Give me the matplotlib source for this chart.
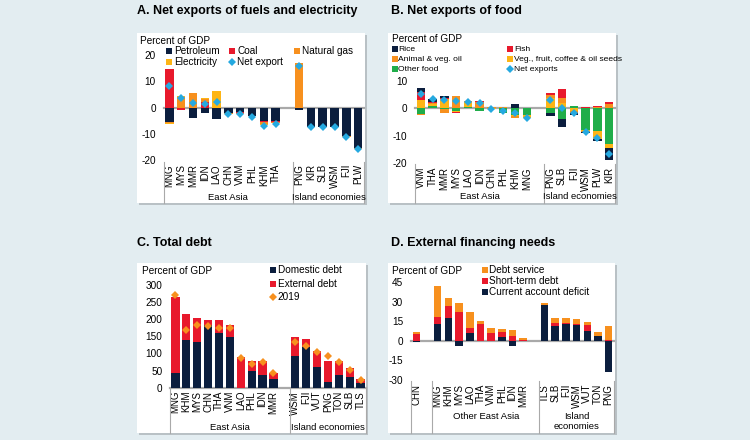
import matplotlib
matplotlib.use("Agg")
import matplotlib.pyplot as plt
from matplotlib.patches import Rectangle
from matplotlib.lines import Line2D
import numpy as np

plt.rcParams["font.family"] = ["Liberation Sans", "DejaVu Sans"]
plt.rcParams["axes.unicode_minus"] = False

W, H = 750, 440

NAVY = "#0B1E3E"
RED = "#E8192C"
ORANGE = "#F7901E"
GOLD = "#FDB515"
CYAN = "#25A9E0"
GREEN = "#20AD4A"
GRAY = "#A9A9A9"
BG = "#E3EDF1"

# A. Net exports of fuels and electricity
fuel_countries = ["MNG", "MYS", "MMR", "IDN", "LAO", "CHN", "VNM", "PHL", "KHM", "THA",
                  "PNG", "KIR", "SLB", "WSM", "FJI", "PLW"]
fuel_petroleum = [-5.3, 0.0, -3.8, -2.1, -4.3, -1.9, -1.8, -3.1, -5.1, -5.0,
                  -0.9, -7.2, -7.2, -7.2, -10.6, -15.4]
fuel_coal = [14.6, -0.9, 0.0, 2.3, 0.0, -0.2, -0.3, -0.2, -0.5, -0.4,
             0.0, 0.0, 0.0, 0.0, 0.0, 0.0]
fuel_gas = [-0.4, 4.0, 5.5, 1.0, 0.0, -0.2, -0.2, 0.0, -0.5, -0.6,
            16.9, -0.3, -0.3, -0.3, -0.4, -0.4]
fuel_elec = [-0.6, 0.4, 0.2, 0.3, 6.5, 0.0, 0.0, 0.0, -0.5, 0.0,
             0.0, 0.0, 0.0, 0.0, 0.0, 0.0]
fuel_net = [8.2, 3.5, 1.8, 1.3, 2.0, -2.4, -2.5, -3.4, -6.8, -6.3,
            16.0, -7.5, -7.5, -7.5, -11.1, -15.8]

# B. Net exports of food
food_countries = ["VNM", "THA", "MMR", "MYS", "LAO", "IDN", "CHN", "PHL", "KHM", "MNG",
                  "PNG", "SLB", "FJI", "WSM", "PLW", "KIR"]
food_rice = [1.5, 1.0, 0.6, 0.0, 0.0, 0.0, 0.0, 0.0, 1.5, 0.0,
             -0.9, -2.9, -0.6, -0.4, -0.6, -4.3]
food_fish = [3.0, 0.6, 0.6, -0.3, 0.0, 0.3, 0.0, 0.0, -0.2, 0.0,
             0.7, 3.0, -0.2, 0.3, 0.5, 0.6]
food_oil = [-0.3, 0.4, -1.4, 4.5, 0.3, 2.2, 0.3, 0.5, -0.7, 0.0,
            1.2, 2.1, -0.5, -0.3, 0.3, 1.6]
food_veg = [3.0, 0.4, 3.3, -0.7, 1.8, 0.2, -0.3, 0.0, -0.2, -1.0,
            3.6, 1.8, -1.1, -0.5, -3.0, -1.5]
food_other = [-2.2, 1.0, -0.2, -0.8, 0.6, -0.8, 0.0, -1.6, -2.6, -2.4,
              -1.8, -4.0, 1.0, -7.8, -8.2, -13.0]
food_net = [5.2, 3.4, 3.0, 2.7, 2.4, 1.9, -0.3, -1.0, -1.8, -3.5,
            3.0, 0.0, -1.6, -8.6, -10.9, -16.6]

# C. Total debt
debt_countries = ["MNG", "KHM", "MYS", "CHN", "THA", "VNM", "LAO", "PHL", "IDN", "MMR",
                  "WSM", "FJI", "VUT", "PNG", "TON", "SLB", "TLS"]
debt_domestic = [44, 138, 133, 182, 159, 147, 0, 50, 37, 26, 92, 119, 60, 18, 37, 32, 15]
debt_external = [222, 78, 70, 15, 38, 35, 91, 28, 41, 18, 55, 24, 48, 61, 42, 26, 11]
debt_2019 = [271, 170, 184, 180, 175, 173, 88, 68, 74, 43, 134, 123, 105, 92, 75, 52, 22]

# D. External financing needs
efn_countries = ["CHN", "MNG", "KHM", "MYS", "LAO", "THA", "VNM", "PHL", "IDN", "MMR",
                 "TLS", "SLB", "FJI", "WSM", "VUT", "TON", "PNG"]
efn_current = [-1.3, 12.8, 17.6, -3.8, 5.9, 0.0, 0.0, 3.1, -4.1, 0.0,
               27.4, 11.5, 12.8, 12.0, 7.4, 3.6, -23.8]
efn_short = [5.4, 5.6, 9.3, 22.3, 4.1, 13.0, 5.6, 3.5, 3.6, 0.3,
             0.0, 1.8, 1.0, 0.5, 4.6, 0.0, 0.5]
efn_service = [1.0, 23.8, 5.6, 6.9, 12.0, 2.3, 4.1, 2.1, 4.3, 1.5,
               1.2, 4.3, 3.3, 4.1, 2.1, 2.8, 11.0]

fig = plt.figure(figsize=(W / 100, H / 100), dpi=100, facecolor=BG)


def fx(x):
    return x / W


def fy(y):
    return 1 - y / H


def panel_box(x0, y0, x1, y1):
    fig.patches.append(Rectangle((fx(x0 + 2), fy(y1 + 2)), (x1 - x0) / W, (y1 - y0) / H,
                                 transform=fig.transFigure, facecolor="#B9C1C5",
                                 edgecolor="none", zorder=-3))
    fig.patches.append(Rectangle((fx(x0), fy(y1)), (x1 - x0) / W, (y1 - y0) / H,
                                 transform=fig.transFigure, facecolor="white",
                                 edgecolor="none", zorder=-2))


def make_axes(L, R, T, B, xlim, y0px, ppu, yticks):
    ax = fig.add_axes([fx(L), fy(B), (R - L) / W, (B - T) / H])
    ax.set_xlim(*xlim)
    ax.set_ylim((y0px - B) / ppu, (y0px - T) / ppu)
    ax.patch.set_alpha(0)
    for s in ax.spines.values():
        s.set_visible(False)
    ax.set_yticks(yticks)
    ax.tick_params(axis="y", length=0, labelsize=7.2, pad=5.5)
    ax.tick_params(axis="x", length=0, labelsize=7, pad=2.2, labelrotation=90)
    ax.axhline(0, color=GRAY, lw=1.6, zorder=1, clip_on=False)
    ax._px = (L, R, xlim)
    return ax


def data_to_px(ax, x):
    L, R, xlim = ax._px
    return L + (x - xlim[0]) / (xlim[1] - xlim[0]) * (R - L)


def stacked(ax, x, series, colors, width):
    pos = np.zeros(len(x))
    neg = np.zeros(len(x))
    for vals, c in zip(series, colors):
        v = np.array(vals, dtype=float)
        p = np.where(v > 0, v, 0)
        n = np.where(v < 0, v, 0)
        ax.bar(x, p, bottom=pos, width=width, color=c, lw=0, zorder=2)
        ax.bar(x, n, bottom=neg, width=width, color=c, lw=0, zorder=2)
        pos += p
        neg += n


def groups(ax, seps, top, bottom, labels):
    for s in seps:
        xp = fx(data_to_px(ax, s))
        fig.add_artist(Line2D([xp, xp], [fy(top), fy(bottom)], color=GRAY, lw=0.8))
    for text, xc, yc in labels:
        fig.text(fx(data_to_px(ax, xc)), fy(yc), text, ha="center", va="center",
                 fontsize=6.8, linespacing=1.2)


def legend_item(x, y, label, color, marker="s", ms=4.6, fs=7.2, gap=5):
    fig.add_artist(Line2D([fx(x)], [fy(y)], marker=marker, markersize=ms, color=color,
                          markeredgewidth=0, linestyle="none"))
    fig.text(fx(x + gap), fy(y), label, ha="left", va="center", fontsize=fs)


def title(x, y, s):
    fig.text(fx(x), fy(y), s, ha="left", va="center", fontsize=9, fontweight="bold")


# boxes
panel_box(137, 33, 365, 203)
panel_box(388, 33, 616, 203)
panel_box(137, 263, 366, 433)
panel_box(388, 263, 615, 433)

title(137, 11, "A. Net exports of fuels and electricity")
title(391, 11, "B. Net exports of food")
title(137, 243, "C. Total debt")
title(391, 243, "D. External financing needs")

MK = dict(linestyle="none", marker="D", ms=4.4, markeredgewidth=0, zorder=3)

# ---- A ----
xa = np.array(list(range(10)) + list(range(11, 17)))
axA = make_axes(163.5, 364, 34, 161, (-0.5, 16.5), 107.7, 2.63, [-20, -10, 0, 10, 20])
stacked(axA, xa, [fuel_petroleum, fuel_coal, fuel_gas, fuel_elec],
        [NAVY, RED, ORANGE, GOLD], 0.72)
axA.plot(xa, fuel_net, color=CYAN, **MK)
axA.set_xticks(xa, fuel_countries)
groups(axA, [-0.5, 10.5, 16.5], 162, 203,
       [("East Asia", 5, 197.5), ("Island economies", 13.5, 197.5)])
fig.text(fx(140), fy(40.5), "Percent of GDP", ha="left", va="center", fontsize=7.2)
legend_item(169, 50.7, "Petroleum", NAVY)
legend_item(232, 50.7, "Coal", RED)
legend_item(297, 50.7, "Natural gas", ORANGE)
legend_item(169, 62, "Electricity", GOLD)
legend_item(232, 62, "Net export", CYAN, marker="D", ms=4.4)

# ---- B ----
xb = np.array(list(range(10)) + list(range(11, 17)))
axB = make_axes(415, 615, 34, 164, (-0.5, 16.5), 108.3, 2.75, [-20, -10, 0, 10])
stacked(axB, xb, [food_other, food_veg, food_oil, food_fish, food_rice],
        [GREEN, GOLD, ORANGE, RED, NAVY], 0.72)
axB.plot(xb, food_net, color=CYAN, **MK)
axB.set_xticks(xb, food_countries)
groups(axB, [-0.5, 10.5, 16.5], 164, 203,
       [("East Asia", 5, 196.7), ("Island economies", 13.5, 196.7)])
fig.text(fx(392), fy(39.5), "Percent of GDP", ha="left", va="center", fontsize=7.2)
LB = dict(ms=4.0, fs=6.1, gap=4)
legend_item(394.5, 49.3, "Rice", NAVY, **LB)
legend_item(510, 49.3, "Fish", RED, **LB)
legend_item(394.5, 59.3, "Animal & veg. oil", ORANGE, **LB)
legend_item(510, 59.3, "Veg., fruit, coffee & oil seeds", GOLD, **LB)
legend_item(394.5, 69.3, "Other food", GREEN, **LB)
legend_item(510, 69.3, "Net exports", CYAN, marker="D", ms=4.0, fs=6.1, gap=4)

# ---- C ----
xc = np.array(list(range(10)) + list(range(11, 18)))
axC = make_axes(170, 366, 264, 387.7, (-0.5, 17.5), 387.7, 0.3423,
                [0, 50, 100, 150, 200, 250, 300])
stacked(axC, xc, [debt_domestic, debt_external], [NAVY, RED], 0.76)
axC.plot(xc, debt_2019, color=ORANGE, **MK)
axC.set_xticks(xc, debt_countries)
groups(axC, [-0.5, 10.5, 17.5], 388, 433,
       [("East Asia", 5, 427.7), ("Island economies", 14, 427.7)])
fig.text(fx(141.5), fy(270.5), "Percent of GDP", ha="left", va="center", fontsize=7.2)
legend_item(272.5, 270, "Domestic debt", NAVY)
legend_item(272.5, 284, "External debt", RED)
legend_item(272.5, 296.5, "2019", ORANGE, marker="D", ms=4.4)

# ---- D ----
xd = np.array([0] + list(range(2, 11)) + list(range(12, 19)))
axD = make_axes(411, 614, 264, 381, (-0.5, 18.5), 340.7, 1.303,
                [-30, -15, 0, 15, 30, 45])
stacked(axD, xd, [efn_current, efn_short, efn_service], [NAVY, RED, ORANGE], 0.7)
axD.set_xticks(xd, efn_countries)
groups(axD, [-0.5, 1.5, 11.5, 18.5], 381, 433,
       [("Other East Asia", 6.5, 416.7), ("Island\neconomies", 15, 421.5)])
fig.text(fx(391.5), fy(270.5), "Percent of GDP", ha="left", va="center", fontsize=7.2)
legend_item(484.5, 270, "Debt service", ORANGE)
legend_item(484.5, 281, "Short-term debt", RED)
legend_item(484.5, 292.3, "Current account deficit", NAVY)

fig.savefig("out.png", dpi=100, facecolor=BG)
